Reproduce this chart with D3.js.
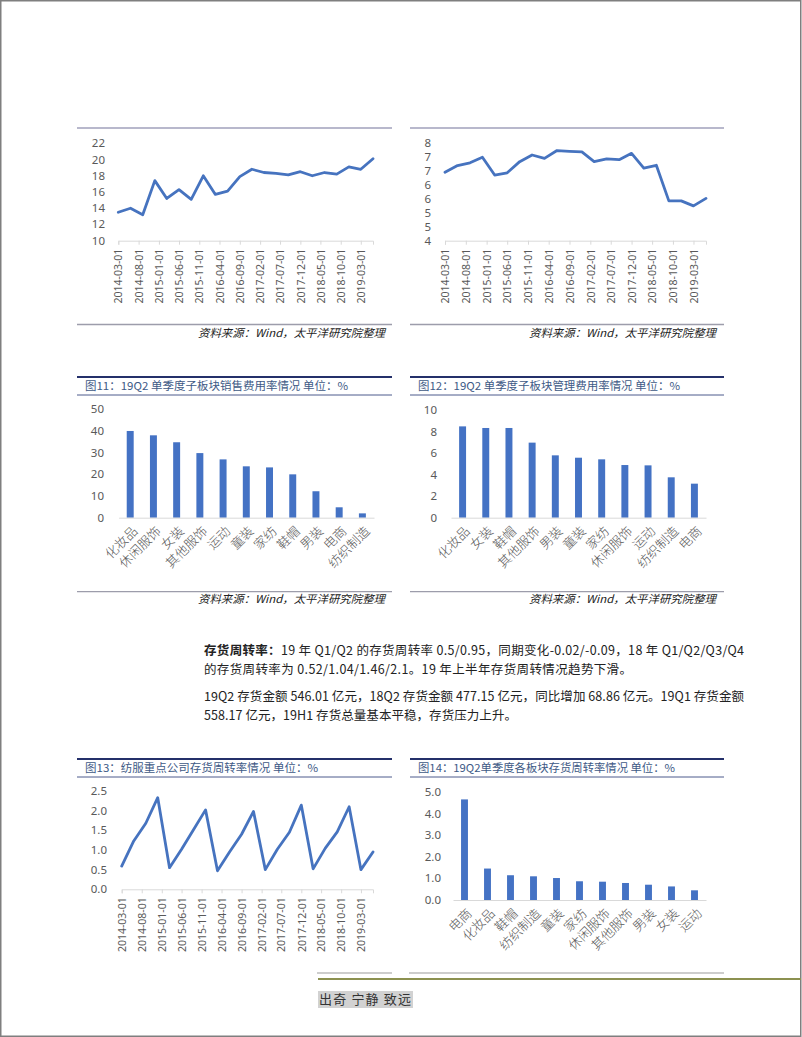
<!DOCTYPE html>
<html><head><meta charset="utf-8">
<script src="https://cdn.jsdelivr.net/npm/d3@7"></script>
<style>
html,body{margin:0;padding:0;background:#fff;}
svg{display:block;}
</style></head>
<body>
<svg id="page" width="802" height="1037"></svg>
<script>
// ---------- data ----------
const quarterDates = ["2014-03-01","2014-06-01","2014-09-01","2014-12-01","2015-03-01","2015-06-01","2015-09-01","2015-12-01","2016-03-01","2016-06-01","2016-09-01","2016-12-01","2017-03-01","2017-06-01","2017-09-01","2017-12-01","2018-03-01","2018-06-01","2018-09-01","2018-12-01","2019-03-01","2019-06-01"];
const dateTickLabels = ["2014-03-01","2014-08-01","2015-01-01","2015-06-01","2015-11-01","2016-04-01","2016-09-01","2017-02-01","2017-07-01","2017-12-01","2018-05-01","2018-10-01","2019-03-01"];

const chartAValues = [13.5,14.0,13.2,17.4,15.2,16.3,15.1,18.0,15.7,16.1,17.9,18.8,18.4,18.3,18.1,18.5,18.0,18.4,18.2,19.1,18.8,20.1];
const chartATicks = [10,12,14,16,18,20,22];
const chartATickLabels = ["10","12","14","16","18","20","22"];

const chartBValues = [6.46,6.70,6.80,7.00,6.36,6.44,6.84,7.08,6.96,7.24,7.21,7.19,6.84,6.94,6.91,7.14,6.61,6.71,5.43,5.43,5.25,5.52];
const chartBTicks = [4,4.5,5,5.5,6,6.5,7,7.5];
const chartBTickLabels = ["4","5","5","6","6","7","7","8"];

const fig11Title = "图11：19Q2 单季度子板块销售费用率情况 单位：%";
const fig11Categories = ["化妆品","休闲服饰","女装","其他服饰","运动","童装","家纺","鞋帽","男装","电商","纺织制造"];
const fig11Values = [40.0,38.0,34.8,29.8,26.9,23.7,23.2,20.0,12.2,4.8,2.0];
const fig11Ticks = [0,10,20,30,40,50];
const fig11TickLabels = ["0","10","20","30","40","50"];

const fig12Title = "图12：19Q2 单季度子板块管理费用率情况 单位：%";
const fig12Categories = ["化妆品","女装","鞋帽","其他服饰","男装","童装","家纺","休闲服饰","运动","纺织制造","电商"];
const fig12Values = [8.48,8.33,8.33,6.97,5.79,5.57,5.42,4.89,4.86,3.75,3.16];
const fig12Ticks = [0,2,4,6,8,10];
const fig12TickLabels = ["0","2","4","6","8","10"];

const fig13Title = "图13：纺服重点公司存货周转率情况 单位：%";
const fig13Values = [0.59,1.23,1.68,2.33,0.55,1.02,1.52,2.02,0.47,0.95,1.40,1.98,0.50,1.02,1.45,2.14,0.52,1.04,1.46,2.10,0.50,0.95];
const fig13Ticks = [0,0.5,1,1.5,2,2.5];
const fig13TickLabels = ["0.0","0.5","1.0","1.5","2.0","2.5"];

const fig14Title = "图14：19Q2单季度各板块存货周转率情况 单位：%";
const fig14Categories = ["电商","化妆品","鞋帽","纺织制造","童装","家纺","休闲服饰","其他服饰","男装","女装","运动"];
const fig14Values = [4.67,1.46,1.15,1.10,1.02,0.87,0.85,0.79,0.71,0.63,0.45];
const fig14Ticks = [0,1,2,3,4,5];
const fig14TickLabels = ["0.0","1.0","2.0","3.0","4.0","5.0"];

const sourceText = "资料来源：Wind，太平洋研究院整理";
const paraBold = "存货周转率：";
const paraLines = [
  "19 年 Q1/Q2 的存货周转率 0.5/0.95，同期变化-0.02/-0.09，18 年 Q1/Q2/Q3/Q4",
  "的存货周转率为 0.52/1.04/1.46/2.1。19 年上半年存货周转情况趋势下滑。",
  "19Q2 存货金额 546.01 亿元，18Q2 存货金额 477.15 亿元，同比增加 68.86 亿元。19Q1 存货金额",
  "558.17 亿元，19H1 存货总量基本平稳，存货压力上升。"
];
const footerText = "出奇 宁静 致远";

// ---------- styles ----------
const BLUE = "#4472c4";
const LINEBLUE = "#4673bf";
const AXIS = "#d9d9d9";
const LABEL = "#595959";
const NUMFONT = "'Noto Sans', 'Open Sans', sans-serif";
const CJK = "'Noto Sans CJK SC', sans-serif";

const svg = d3.select("#page");

// page border
svg.append("rect").attr("x",0.75).attr("y",0.75).attr("width",800).attr("height",1035.5)
  .attr("fill","none").attr("stroke","#7f7f7f").attr("stroke-width",1.5);

function hline(x1,x2,y,color,w){
  svg.append("line").attr("x1",x1).attr("x2",x2).attr("y1",y).attr("y2",y)
    .attr("stroke",color).attr("stroke-width",w);
}
function source(xRight,y){
  svg.append("text").attr("x",xRight).attr("y",y).attr("text-anchor","end")
    .attr("font-family",CJK).attr("font-size",11).attr("font-style","italic")
    .attr("fill","#222").attr("textLength",187).attr("lengthAdjust","spacingAndGlyphs")
    .text(sourceText);
}
function header(x1,x2,yTop,title,tx,tw){
  hline(x1,x2,yTop,"#24306a",2);
  svg.append("text").attr("x",tx).attr("y",yTop+13).attr("font-family",CJK)
    .attr("font-size",11).attr("fill","#3e5a86").attr("textLength",tw)
    .attr("lengthAdjust","spacingAndGlyphs").text(title);
  hline(x1,x2,yTop+18,"#4d5b8c",1);
}

function yLabels(y, ticks, labels, xRight){
  svg.append("g").selectAll("text").data(ticks).join("text")
    .attr("x",xRight).attr("y",d=>y(d)).attr("dy","0.35em").attr("text-anchor","end")
    .attr("font-family",NUMFONT).attr("font-size",11.5).attr("fill",LABEL)
    .text((d,i)=>labels[i]);
}

function lineChart(o){
  const parse = d3.utcParse("%Y-%m-%d");
  const dates = quarterDates.map(parse);
  const x = d3.scaleUtc().domain([dates[0], dates[dates.length-1]]).range([o.left,o.right]);
  const y = d3.scaleLinear().domain([o.ticks[0], o.ticks[o.ticks.length-1]]).range([o.bottom,o.top]);
  yLabels(y,o.ticks,o.tickLabels,o.labelRight);
  const tickDates = dateTickLabels.map(parse);
  const ax = d3.axisBottom(x).tickValues(tickDates).tickSize(4).tickFormat((d,i)=>dateTickLabels[i]);
  const g = svg.append("g").attr("transform",`translate(0,${y(o.ticks[0])})`).call(ax);
  g.select(".domain").attr("stroke",AXIS);
  g.selectAll(".tick line").attr("stroke",AXIS);
  g.selectAll(".tick text").attr("font-family",NUMFONT).attr("font-size",10.5).attr("fill",LABEL)
    .attr("text-anchor","end").attr("transform","rotate(-90)").attr("x",-8).attr("y",0).attr("dy","0.35em");
  const line = d3.line().x((d,i)=>x(dates[i])).y(d=>y(d));
  svg.append("path").datum(o.values).attr("d",line).attr("fill","none")
    .attr("stroke",LINEBLUE).attr("stroke-width",2.8).attr("stroke-linejoin","round").attr("stroke-linecap","round");
}

function barChart(o){
  const x = d3.scaleBand().domain(o.categories).range([o.left,o.right]).paddingInner(0.7).paddingOuter(0.35);
  const y = d3.scaleLinear().domain([o.ticks[0], o.ticks[o.ticks.length-1]]).range([o.bottom,o.top]);
  yLabels(y,o.ticks,o.tickLabels,o.labelRight);
  svg.append("g").selectAll("rect").data(o.values).join("rect")
    .attr("x",(d,i)=>x(o.categories[i])).attr("width",x.bandwidth())
    .attr("y",d=>y(d)).attr("height",d=>y(0)-y(d)).attr("fill",BLUE);
  const ax = d3.axisBottom(x).tickSize(0).tickPadding(0);
  const g = svg.append("g").attr("transform",`translate(0,${y(0)})`).call(ax);
  g.select(".domain").attr("stroke",AXIS);
  g.selectAll(".tick text").attr("font-family",CJK).attr("font-size",13).attr("fill",LABEL)
    .attr("font-weight",300)
    .attr("text-anchor","end").attr("transform","translate(5,11) rotate(-45)").attr("y",0).attr("dy","0.35em");
}

// ---------- top charts ----------
hline(77,392,128,"#b8b8cc",2);
hline(410,724,128,"#b8b8cc",2);
lineChart({left:118.3,right:373,top:143.3,bottom:240.7,labelRight:105,values:chartAValues,ticks:chartATicks,tickLabels:chartATickLabels});
lineChart({left:445,right:706,top:143.3,bottom:240.7,labelRight:431,values:chartBValues,ticks:chartBTicks,tickLabels:chartBTickLabels});
hline(77,392,324.5,"#9d9dab",1.3);
hline(410,724,324.5,"#9d9dab",1.3);
source(385,337);
source(716,337);

// ---------- figs 11 & 12 ----------
header(77,392,377,fig11Title,85,263);
header(410,724,377,fig12Title,418,262);
barChart({left:118.6,right:374,top:409.3,bottom:517.7,labelRight:104,categories:fig11Categories,values:fig11Values,ticks:fig11Ticks,tickLabels:fig11TickLabels});
barChart({left:451,right:706,top:410,bottom:517.7,labelRight:437,categories:fig12Categories,values:fig12Values,ticks:fig12Ticks,tickLabels:fig12TickLabels});
hline(77,392,591.7,"#9d9dab",1.3);
hline(410,724,591.7,"#9d9dab",1.3);
source(385,603);
source(716,603);

// ---------- paragraph ----------
const p1 = svg.append("text").attr("x",204).attr("y",655).attr("font-family",CJK).attr("font-size",12.5)
  .attr("fill","#222").attr("textLength",540).attr("lengthAdjust","spacing");
p1.append("tspan").attr("font-weight","bold").text(paraBold);
p1.append("tspan").text(paraLines[0]);
const paraY = [674,701,720];
const paraW = [428,540,313];
[1,2,3].forEach((k,i)=>{
  svg.append("text").attr("x",204).attr("y",paraY[i]).attr("font-family",CJK).attr("font-size",12.5)
    .attr("fill","#222").attr("textLength",paraW[i]).attr("lengthAdjust","spacing").text(paraLines[k]);
});

// ---------- figs 13 & 14 ----------
header(77,392,759,fig13Title,85,233);
header(410,724,759,fig14Title,418,257);
lineChart({left:121.7,right:373,top:791,bottom:889.3,labelRight:107,values:fig13Values,ticks:fig13Ticks,tickLabels:fig13TickLabels});
barChart({left:453,right:706,top:792.3,bottom:900,labelRight:441,categories:fig14Categories,values:fig14Values,ticks:fig14Ticks,tickLabels:fig14TickLabels});
hline(317,392,973,"#bdbdbd",1.3);
hline(409,724,973,"#bdbdbd",1.3);

// ---------- footer ----------
hline(318,801,979,"#8c9150",2.2);
svg.append("rect").attr("x",318).attr("y",991).attr("width",95).attr("height",17).attr("fill","#d2d2d2");
svg.append("text").attr("x",319).attr("y",1004).attr("font-family",CJK).attr("font-size",13)
  .attr("fill","#333").attr("textLength",92).attr("lengthAdjust","spacing").text(footerText);
</script>
</body></html>
